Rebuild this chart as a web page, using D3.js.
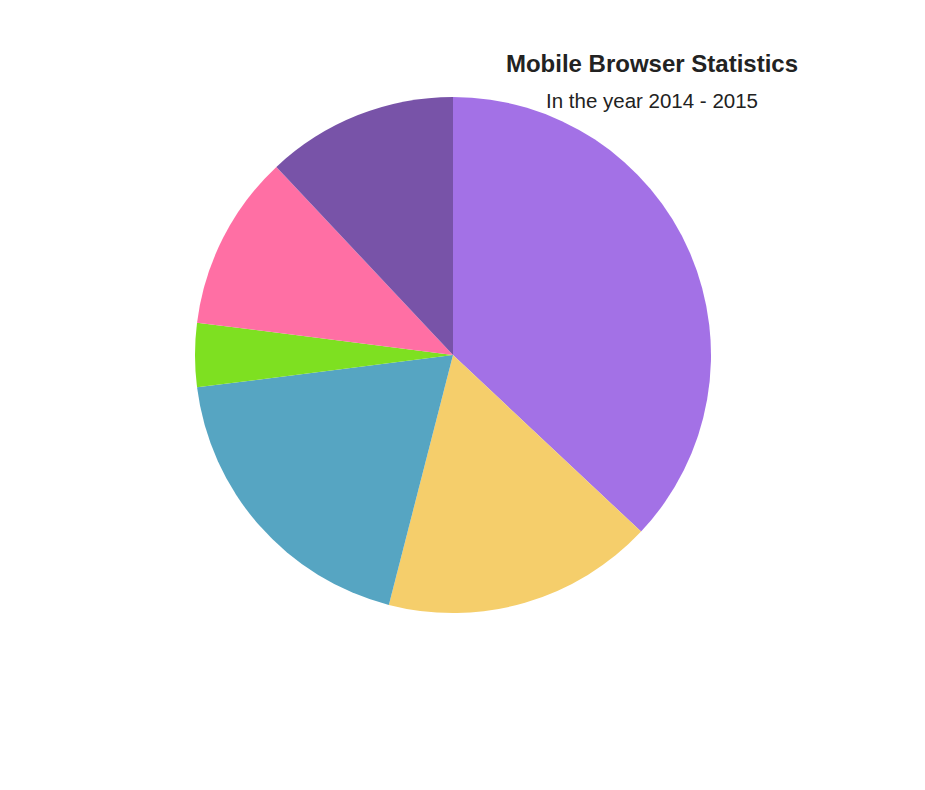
<!DOCTYPE html>
<html>
<head>
<meta charset="utf-8">
<script src="https://cdn.jsdelivr.net/npm/d3@7"></script>
<style>
  body { margin: 0; background: #fff; }
  #chartContainer { width: 925px; height: 790px; }
</style>
</head>
<body>
<div id="chartContainer"></div>
<script>
var browsers = ["Chrome", "UC Browser", "iPhone", "Others", "Opera", "Android"];
var shares = [37, 17, 19, 4, 11, 12];
var colors = ["#a371e6", "#f5ce6b", "#56a5c2", "#7ee021", "#ff6fa4", "#7853a8"];

var width = 925, height = 790;
var cx = 453, cy = 355, radius = 258;

var svg = d3.select("#chartContainer")
  .append("svg")
  .attr("width", width)
  .attr("height", height);

var color = d3.scaleOrdinal().domain(browsers).range(colors);

var pie = d3.pie()
  .sort(null)
  .value(function(d, i) { return shares[i]; });

var arc = d3.arc().innerRadius(0).outerRadius(radius);

svg.append("g")
  .attr("transform", "translate(" + cx + "," + cy + ")")
  .selectAll("path")
  .data(pie(browsers))
  .enter().append("path")
  .attr("d", arc)
  .attr("fill", function(d) { return color(d.data); });

svg.append("text")
  .attr("x", 652)
  .attr("y", 72)
  .attr("text-anchor", "middle")
  .style("font-family", "Liberation Sans, Arial, sans-serif")
  .style("font-size", "24px")
  .style("font-weight", "bold")
  .style("fill", "#222")
  .text("Mobile Browser Statistics");

svg.append("text")
  .attr("x", 652)
  .attr("y", 108)
  .attr("text-anchor", "middle")
  .style("font-family", "Liberation Sans, Arial, sans-serif")
  .style("font-size", "20.5px")
  .style("fill", "#222")
  .text("In the year 2014 - 2015");
</script>
</body>
</html>
